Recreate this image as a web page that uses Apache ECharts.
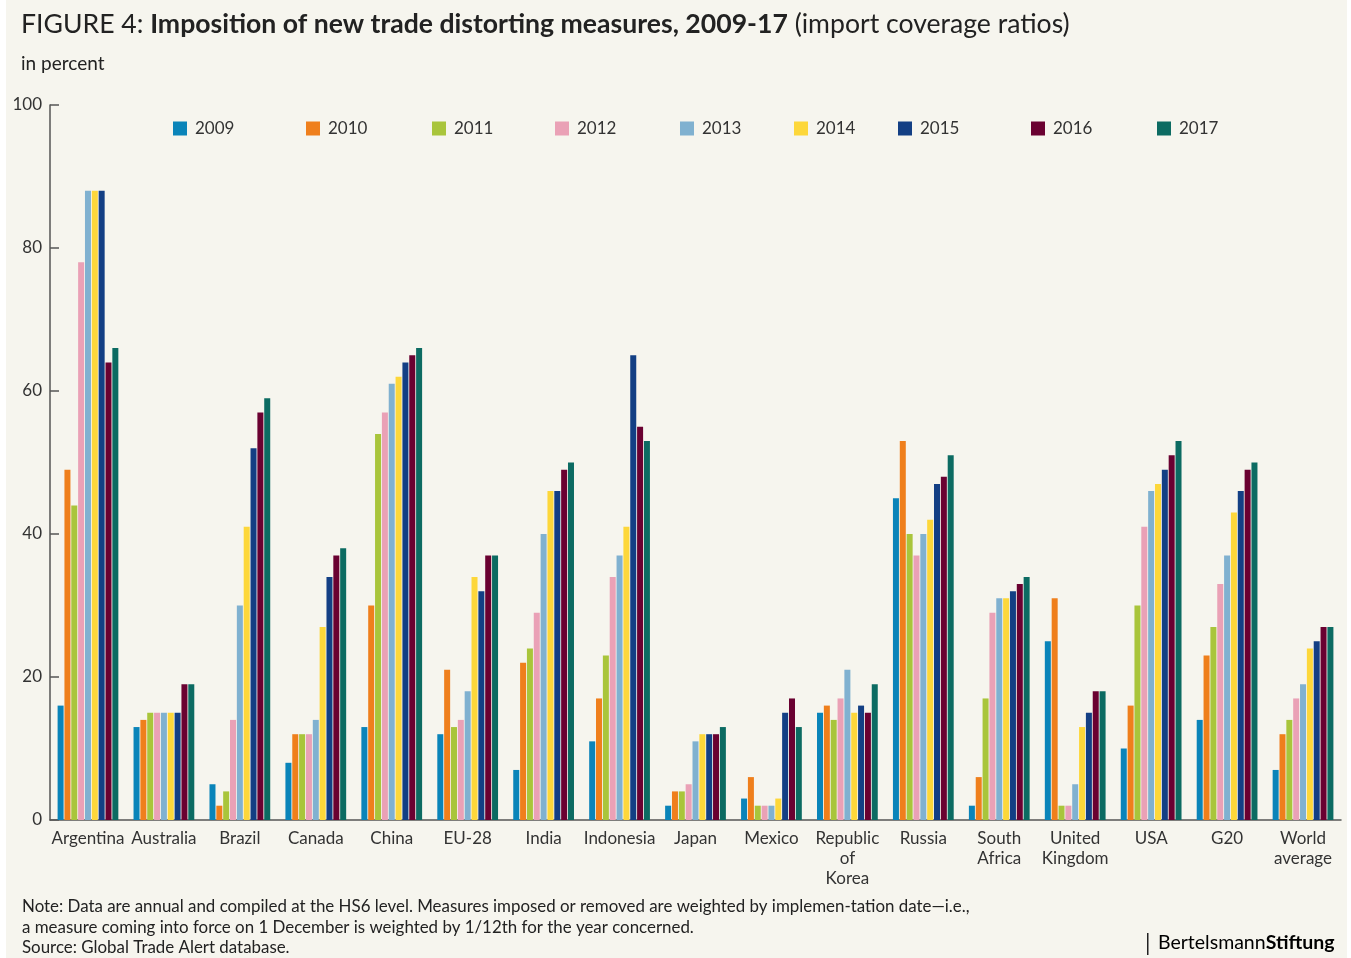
<!DOCTYPE html>
<html>
<head>
<meta charset="utf-8">
<script src="https://cdn.jsdelivr.net/npm/echarts@6/dist/echarts.min.js"></script>
<style>
html,body{margin:0;padding:0;background:#ffffff;}
#wrap{position:absolute;left:6px;top:0;width:1341px;height:958px;background:#f6f5ee;}
#chart{position:absolute;left:-6px;top:0;width:1351px;height:958px;}
</style>
</head>
<body>
<div id="wrap"><div id="chart"></div></div>
<script>
const categories = ['Argentina','Australia','Brazil','Canada','China','EU-28','India','Indonesia','Japan','Mexico','Republic\nof\nKorea','Russia','South\nAfrica','United\nKingdom','USA','G20','World\naverage'];
const years = ['2009','2010','2011','2012','2013','2014','2015','2016','2017'];
const yTicks = [0,20,40,60,80,100];
// values per year, in category order
const v2009 = [16,13,5,8,13,12,7,11,2,3,15,45,2,25,10,14,7];
const v2010 = [49,14,2,12,30,21,22,17,4,6,16,53,6,31,16,23,12];
const v2011 = [44,15,4,12,54,13,24,23,4,2,14,40,17,2,30,27,14];
const v2012 = [78,15,14,12,57,14,29,34,5,2,17,37,29,2,41,33,17];
const v2013 = [88,15,30,14,61,18,40,37,11,2,21,40,31,5,46,37,19];
const v2014 = [88,15,41,27,62,34,46,41,12,3,15,42,31,13,47,43,24];
const v2015 = [88,15,52,34,64,32,46,65,12,15,16,47,32,15,49,46,25];
const v2016 = [64,19,57,37,65,37,49,55,12,17,15,48,33,18,51,49,27];
const v2017 = [66,19,59,38,66,37,50,53,13,13,19,51,34,18,53,50,27];
const values = [v2009,v2010,v2011,v2012,v2013,v2014,v2015,v2016,v2017];
const colors = ['#0a84b9','#ef7f1c','#a9c53b','#eaa1b6','#80b1d0','#fdd73a','#133f84','#6a0131','#0c6b62'];
const legendLeft = [173,306,432,555,680,794,898,1031,1157];

const FONT = 'Lato, "Open Sans", sans-serif';
const chart = echarts.init(document.getElementById('chart'));
const option = {
  backgroundColor: 'transparent',
  animation: false,
  color: colors,
  title: {
    left: 21, top: 11, padding: 0,
    text: '{a|FIGURE 4: }{b|Imposition of new trade distorting measures, 2009-17}{a| (import coverage ratios)}',
    textStyle: { fontWeight: 'normal', rich: {
      a: { fontFamily: FONT, fontSize: 26.6, fontWeight: 'normal', color: '#222' },
      b: { fontFamily: FONT, fontSize: 26.6, fontWeight: 'bold', color: '#222' }
    }},
    subtext: 'in percent',
    subtextStyle: { fontFamily: FONT, fontSize: 19, color: '#222' },
    itemGap: 16
  },
  legend: years.map((y, i) => ({
    data: [y], left: legendLeft[i], top: 120, icon: 'rect', padding: 0,
    itemWidth: 14, itemHeight: 14, selectedMode: false,
    textStyle: { fontFamily: FONT, fontSize: 17, color: '#333', padding: [0,0,0,3] }
  })),
  grid: { left: 50, right: 10, top: 105, bottom: 138, containLabel: false },
  xAxis: {
    type: 'category', data: categories, boundaryGap: true,
    axisLine: { lineStyle: { color: '#555', width: 1.5 } },
    axisTick: { inside: true, length: 13, alignWithLabel: false, lineStyle: { color: '#555', width: 1.5 } },
    axisLabel: { interval: 0, fontFamily: FONT, fontSize: 17, color: '#333', lineHeight: 20, margin: 9 }
  },
  yAxis: {
    type: 'value', min: 0, max: 100, interval: 20,
    axisLine: { show: true, lineStyle: { color: '#555', width: 1.5 } },
    axisTick: { show: true, inside: true, length: 9, lineStyle: { color: '#555', width: 1.5 } },
    splitLine: { show: false },
    axisLabel: { fontFamily: FONT, fontSize: 17, color: '#333', margin: 8,
      formatter: v => yTicks.includes(v) ? String(v) : '' }
  },
  series: years.map((y, i) => ({
    name: y, type: 'bar', data: values[i],
    barGap: '14%', barCategoryGap: '20%',
    itemStyle: { color: colors[i] }
  })),
  graphic: [
    { type: 'text', left: 22, top: 898, style: { text: 'Note: Data are annual and compiled at the HS6 level. Measures imposed or removed are weighted by implemen-tation date\u2014i.e.,', font: '16.9px ' + FONT, fill: '#222' } },
    { type: 'text', left: 22, top: 919, style: { text: 'a measure coming into force on 1 December is weighted by 1/12th for the year concerned.', font: '16.9px ' + FONT, fill: '#222' } },
    { type: 'text', left: 22, top: 939, style: { text: 'Source: Global Trade Alert database.', font: '16.9px ' + FONT, fill: '#222' } },
    { type: 'rect', left: 1147, top: 933, shape: { width: 1.5, height: 22 }, style: { fill: '#222' } },
    { type: 'text', left: 1158, top: 933, style: { text: '{a|Bertelsmann}{b|Stiftung}', rich: {
        a: { fontFamily: FONT, fontSize: 19.5, color: '#222' },
        b: { fontFamily: FONT, fontSize: 19.5, fontWeight: 'bold', color: '#222' } } } }
  ]
};
chart.setOption(option);
</script>
</body>
</html>
